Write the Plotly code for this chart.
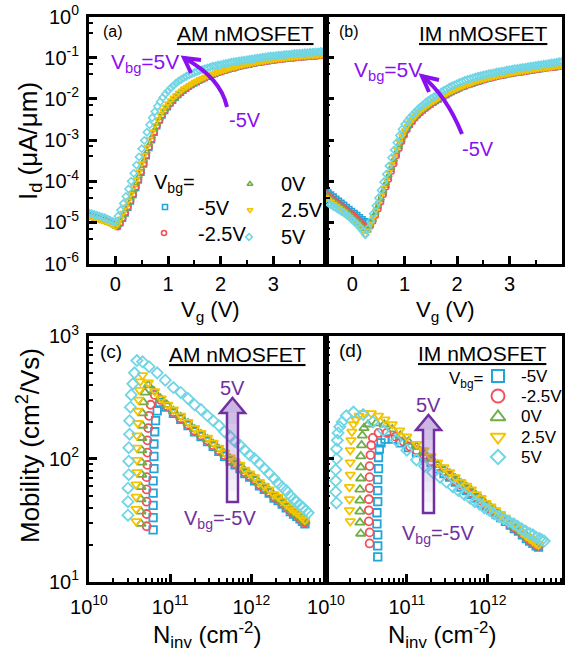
import plotly.graph_objects as go

# ---------------- data ----------------
VG = [-0.5, -0.45, -0.4, -0.35, -0.3, -0.25, -0.2, -0.15, -0.1, -0.05, 0.0,
      0.05, 0.1, 0.15, 0.2, 0.25, 0.3, 0.35, 0.4, 0.45, 0.5,
      0.55, 0.6, 0.65, 0.7, 0.75, 0.8, 0.85, 0.9, 0.95, 1.0,
      1.05, 1.1, 1.15, 1.2, 1.25, 1.3, 1.35, 1.4, 1.45, 1.5,
      1.55, 1.6, 1.65, 1.7, 1.75, 1.8, 1.85, 1.9, 1.95, 2.0,
      2.05, 2.1, 2.15, 2.2, 2.25, 2.3, 2.35, 2.4, 2.45, 2.5,
      2.55, 2.6, 2.65, 2.7, 2.75, 2.8, 2.85, 2.9, 2.95, 3.0,
      3.05, 3.1, 3.15, 3.2, 3.25, 3.3, 3.35, 3.4, 3.45, 3.5,
      3.55, 3.6, 3.65, 3.7, 3.75, 3.8, 3.85, 3.9, 3.95, 4.0]

# log10(Id [uA/um]) -- panel (a) AM nMOSFET
A_M5 = [-4.82, -4.84, -4.86, -4.88, -4.90, -4.92, -4.94, -4.97, -5.00, -5.03, -5.07,
        -5.10, -5.03, -4.92, -4.79, -4.65, -4.50, -4.34, -4.17, -3.99, -3.80,
        -3.60, -3.40, -3.20, -3.01, -2.83, -2.67, -2.53, -2.41, -2.30, -2.21,
        -2.12, -2.05, -1.98, -1.91, -1.86, -1.80, -1.76, -1.71, -1.67, -1.63,
        -1.60, -1.56, -1.53, -1.50, -1.47, -1.45, -1.42, -1.40, -1.37, -1.35,
        -1.33, -1.31, -1.29, -1.27, -1.26, -1.24, -1.22, -1.21, -1.19, -1.18,
        -1.17, -1.15, -1.14, -1.13, -1.12, -1.11, -1.10, -1.09, -1.08, -1.07,
        -1.06, -1.05, -1.05, -1.04, -1.03, -1.02, -1.02, -1.01, -1.00, -1.00,
        -0.99, -0.99, -0.98, -0.98, -0.97, -0.97, -0.96, -0.96, -0.95, -0.95]
A_M25 = [-4.85, -4.87, -4.89, -4.91, -4.93, -4.95, -4.97, -4.99, -5.02, -5.05, -5.09,
         -5.12, -5.02, -4.90, -4.77, -4.63, -4.48, -4.32, -4.15, -3.97, -3.78,
         -3.58, -3.38, -3.18, -2.99, -2.81, -2.66, -2.52, -2.40, -2.29, -2.20,
         -2.12, -2.04, -1.97, -1.91, -1.85, -1.80, -1.75, -1.71, -1.67, -1.63,
         -1.59, -1.56, -1.53, -1.50, -1.47, -1.44, -1.42, -1.39, -1.37, -1.35,
         -1.33, -1.31, -1.29, -1.27, -1.26, -1.24, -1.22, -1.21, -1.19, -1.18,
         -1.17, -1.15, -1.14, -1.13, -1.12, -1.11, -1.10, -1.09, -1.08, -1.07,
         -1.06, -1.05, -1.05, -1.04, -1.03, -1.02, -1.02, -1.01, -1.00, -1.00,
         -0.99, -0.99, -0.98, -0.98, -0.97, -0.97, -0.96, -0.96, -0.95, -0.95]
A_0 = [-4.86, -4.88, -4.90, -4.92, -4.94, -4.96, -4.98, -5.00, -5.03, -5.06, -5.10,
       -5.08, -4.96, -4.83, -4.69, -4.55, -4.39, -4.23, -4.06, -3.88, -3.69,
       -3.49, -3.29, -3.10, -2.91, -2.74, -2.60, -2.47, -2.35, -2.25, -2.16,
       -2.08, -2.01, -1.94, -1.88, -1.83, -1.78, -1.73, -1.69, -1.65, -1.61,
       -1.58, -1.55, -1.52, -1.49, -1.46, -1.43, -1.41, -1.38, -1.36, -1.34,
       -1.32, -1.30, -1.28, -1.26, -1.25, -1.23, -1.21, -1.20, -1.18, -1.17,
       -1.16, -1.14, -1.13, -1.12, -1.11, -1.10, -1.09, -1.08, -1.07, -1.06,
       -1.05, -1.04, -1.04, -1.03, -1.02, -1.01, -1.01, -1.00, -0.99, -0.99,
       -0.98, -0.98, -0.97, -0.97, -0.96, -0.96, -0.95, -0.95, -0.94, -0.94]
A_P25 = [-4.86, -4.88, -4.90, -4.92, -4.94, -4.96, -4.98, -5.00, -5.03, -5.06, -5.11,
         -5.04, -4.91, -4.77, -4.62, -4.47, -4.31, -4.14, -3.96, -3.77, -3.57,
         -3.37, -3.17, -2.98, -2.80, -2.64, -2.50, -2.38, -2.28, -2.19, -2.11,
         -2.04, -1.97, -1.91, -1.85, -1.80, -1.75, -1.71, -1.67, -1.63, -1.59,
         -1.56, -1.53, -1.50, -1.47, -1.44, -1.42, -1.39, -1.37, -1.35, -1.33,
         -1.31, -1.29, -1.27, -1.25, -1.24, -1.22, -1.20, -1.19, -1.17, -1.16,
         -1.15, -1.13, -1.12, -1.11, -1.10, -1.09, -1.08, -1.07, -1.06, -1.05,
         -1.04, -1.03, -1.03, -1.02, -1.01, -1.00, -1.00, -0.99, -0.98, -0.98,
         -0.97, -0.97, -0.96, -0.96, -0.95, -0.95, -0.94, -0.94, -0.93, -0.93]
A_P5 = [-4.77, -4.79, -4.81, -4.83, -4.85, -4.87, -4.89, -4.92, -4.95, -4.98, -4.99,
        -4.85, -4.70, -4.54, -4.37, -4.19, -4.00, -3.81, -3.61, -3.41, -3.21,
        -3.01, -2.81, -2.63, -2.46, -2.31, -2.18, -2.07, -1.97, -1.88, -1.81,
        -1.74, -1.68, -1.62, -1.57, -1.53, -1.49, -1.45, -1.42, -1.39, -1.36,
        -1.34, -1.31, -1.29, -1.27, -1.25, -1.23, -1.21, -1.20, -1.18, -1.17,
        -1.15, -1.14, -1.13, -1.11, -1.10, -1.09, -1.08, -1.07, -1.06, -1.05,
        -1.04, -1.03, -1.02, -1.01, -1.00, -0.99, -0.98, -0.97, -0.96, -0.96,
        -0.95, -0.94, -0.94, -0.93, -0.92, -0.92, -0.91, -0.90, -0.90, -0.89,
        -0.89, -0.88, -0.88, -0.87, -0.87, -0.86, -0.86, -0.85, -0.85, -0.84]

# log10(Id [uA/um]) -- panel (b) IM nMOSFET
B_M5 = [-4.22, -4.27, -4.32, -4.37, -4.42, -4.47, -4.52, -4.57, -4.62, -4.67, -4.72,
        -4.77, -4.82, -4.87, -4.92, -4.97, -5.00, -4.98, -4.88, -4.75, -4.60,
        -4.44, -4.27, -4.09, -3.90, -3.71, -3.52, -3.33, -3.15, -2.99, -2.85,
        -2.73, -2.63, -2.54, -2.46, -2.39, -2.33, -2.28, -2.23, -2.18, -2.14,
        -2.10, -2.06, -2.02, -1.98, -1.94, -1.91, -1.87, -1.84, -1.81, -1.78,
        -1.75, -1.72, -1.70, -1.67, -1.65, -1.63, -1.61, -1.59, -1.57, -1.55,
        -1.53, -1.51, -1.50, -1.48, -1.47, -1.45, -1.44, -1.43, -1.41, -1.40,
        -1.39, -1.38, -1.37, -1.36, -1.35, -1.34, -1.33, -1.32, -1.31, -1.30,
        -1.29, -1.28, -1.27, -1.26, -1.25, -1.25, -1.24, -1.23, -1.22, -1.21]
B_M25 = [-4.30, -4.35, -4.40, -4.45, -4.50, -4.55, -4.60, -4.65, -4.70, -4.75, -4.80,
         -4.86, -4.92, -4.98, -5.04, -5.10, -5.14, -5.10, -4.98, -4.84, -4.68,
         -4.51, -4.33, -4.15, -3.96, -3.77, -3.58, -3.39, -3.21, -3.04, -2.89,
         -2.76, -2.65, -2.56, -2.48, -2.41, -2.35, -2.29, -2.24, -2.19, -2.14,
         -2.10, -2.06, -2.02, -1.98, -1.94, -1.91, -1.87, -1.84, -1.81, -1.78,
         -1.75, -1.72, -1.70, -1.67, -1.65, -1.63, -1.61, -1.59, -1.57, -1.55,
         -1.53, -1.51, -1.50, -1.48, -1.47, -1.45, -1.44, -1.43, -1.41, -1.40,
         -1.39, -1.38, -1.37, -1.36, -1.35, -1.34, -1.33, -1.32, -1.31, -1.30,
         -1.29, -1.28, -1.27, -1.26, -1.25, -1.25, -1.24, -1.23, -1.22, -1.21]
B_0 = [-4.35, -4.40, -4.45, -4.50, -4.55, -4.60, -4.65, -4.70, -4.75, -4.80, -4.86,
       -4.92, -4.98, -5.04, -5.10, -5.16, -5.20, -5.08, -4.93, -4.77, -4.60,
       -4.42, -4.24, -4.05, -3.86, -3.67, -3.48, -3.29, -3.12, -2.96, -2.82,
       -2.70, -2.60, -2.51, -2.44, -2.37, -2.31, -2.26, -2.21, -2.16, -2.12,
       -2.08, -2.04, -2.00, -1.96, -1.93, -1.89, -1.86, -1.83, -1.80, -1.77,
       -1.74, -1.71, -1.69, -1.66, -1.64, -1.62, -1.60, -1.58, -1.56, -1.54,
       -1.52, -1.51, -1.49, -1.48, -1.46, -1.45, -1.44, -1.42, -1.41, -1.40,
       -1.39, -1.37, -1.36, -1.35, -1.34, -1.33, -1.32, -1.31, -1.30, -1.29,
       -1.28, -1.27, -1.27, -1.26, -1.25, -1.24, -1.23, -1.22, -1.22, -1.21]
B_P25 = [-4.40, -4.45, -4.50, -4.55, -4.60, -4.65, -4.70, -4.75, -4.81, -4.87, -4.93,
         -4.99, -5.05, -5.12, -5.19, -5.30, -5.20, -5.04, -4.88, -4.71, -4.53,
         -4.35, -4.16, -3.97, -3.78, -3.59, -3.40, -3.22, -3.05, -2.90, -2.77,
         -2.66, -2.57, -2.49, -2.42, -2.35, -2.29, -2.24, -2.19, -2.14, -2.10,
         -2.06, -2.02, -1.98, -1.94, -1.91, -1.87, -1.84, -1.81, -1.78, -1.75,
         -1.72, -1.70, -1.67, -1.65, -1.63, -1.60, -1.58, -1.56, -1.54, -1.53,
         -1.51, -1.49, -1.48, -1.46, -1.45, -1.44, -1.42, -1.41, -1.40, -1.39,
         -1.37, -1.36, -1.35, -1.34, -1.33, -1.32, -1.31, -1.30, -1.29, -1.28,
         -1.27, -1.26, -1.26, -1.25, -1.24, -1.23, -1.22, -1.21, -1.21, -1.20]
B_P5 = [-4.50, -4.54, -4.58, -4.62, -4.66, -4.70, -4.74, -4.78, -4.83, -4.88, -4.94,
        -5.00, -5.06, -5.13, -5.21, -5.30, -5.15, -4.97, -4.79, -4.60, -4.41,
        -4.22, -4.02, -3.83, -3.63, -3.43, -3.24, -3.06, -2.89, -2.74, -2.62,
        -2.54, -2.46, -2.39, -2.32, -2.26, -2.20, -2.15, -2.09, -2.04, -2.00,
        -1.96, -1.92, -1.87, -1.83, -1.79, -1.76, -1.72, -1.69, -1.66, -1.63,
        -1.60, -1.58, -1.55, -1.53, -1.51, -1.49, -1.47, -1.45, -1.44, -1.42,
        -1.41, -1.39, -1.38, -1.37, -1.35, -1.34, -1.33, -1.32, -1.30, -1.29,
        -1.28, -1.27, -1.26, -1.25, -1.24, -1.23, -1.22, -1.21, -1.20, -1.19,
        -1.18, -1.17, -1.16, -1.15, -1.14, -1.13, -1.12, -1.11, -1.10, -1.09]

# log10(Ninv [cm^-2]) and log10(mobility [cm2/Vs]) -- panel (c) AM
C_NGRID = [11.04, 11.13, 11.22, 11.30, 11.38, 11.46, 11.53, 11.60, 11.67, 11.74,
           11.80, 11.86, 11.92, 11.98, 12.04, 12.10, 12.16, 12.22, 12.28, 12.33,
           12.38, 12.43, 12.48, 12.52, 12.56, 12.60, 12.63, 12.66]
C_M5_N = [10.79, 10.79, 10.79, 10.79, 10.79, 10.80, 10.80, 10.80, 10.81, 10.82, 10.84, 10.87, 10.95]
C_M5_MU = [1.42, 1.52, 1.62, 1.72, 1.82, 1.92, 2.02, 2.12, 2.22, 2.31, 2.39, 2.46, 2.42]
C_M5_MUG = [2.37, 2.32, 2.27, 2.22, 2.18, 2.14, 2.10, 2.06, 2.02, 1.98, 1.95, 1.92, 1.88, 1.85,
            1.82, 1.78, 1.75, 1.72, 1.68, 1.66, 1.63, 1.60, 1.57, 1.55, 1.53, 1.51, 1.49, 1.47]
C_M25_N = [10.71, 10.71, 10.71, 10.71, 10.71, 10.72, 10.72, 10.72, 10.73, 10.74, 10.76, 10.81, 10.88, 10.96]
C_M25_MU = [1.45, 1.55, 1.65, 1.75, 1.85, 1.95, 2.05, 2.15, 2.25, 2.35, 2.44, 2.52, 2.48, 2.43]
C_M25_MUG = [2.38, 2.33, 2.28, 2.23, 2.19, 2.15, 2.11, 2.07, 2.03, 1.99, 1.96, 1.93, 1.89, 1.86,
             1.83, 1.79, 1.76, 1.73, 1.69, 1.67, 1.64, 1.61, 1.58, 1.56, 1.54, 1.52, 1.50, 1.48]
C_0_N = [10.64, 10.64, 10.64, 10.64, 10.65, 10.65, 10.65, 10.65, 10.66, 10.66, 10.67, 10.69, 10.73, 10.80, 10.88, 10.96]
C_0_MU = [1.47, 1.57, 1.67, 1.77, 1.87, 1.97, 2.07, 2.17, 2.27, 2.37, 2.46, 2.54, 2.60, 2.55, 2.49, 2.44]
C_0_MUG = [2.39, 2.34, 2.29, 2.24, 2.20, 2.16, 2.12, 2.08, 2.04, 2.00, 1.97, 1.94, 1.90, 1.87,
           1.84, 1.80, 1.77, 1.74, 1.70, 1.68, 1.65, 1.62, 1.59, 1.57, 1.55, 1.53, 1.51, 1.49]
C_P25_N = [10.58, 10.58, 10.58, 10.58, 10.59, 10.59, 10.59, 10.59, 10.60, 10.60, 10.61, 10.62, 10.63,
           10.66, 10.73, 10.81, 10.89, 10.97]
C_P25_MU = [1.49, 1.59, 1.69, 1.79, 1.89, 1.99, 2.09, 2.19, 2.29, 2.39, 2.48, 2.56, 2.63,
            2.68, 2.62, 2.55, 2.49, 2.44]
C_P25_MUG = [2.40, 2.35, 2.30, 2.25, 2.21, 2.17, 2.13, 2.09, 2.05, 2.01, 1.98, 1.95, 1.91, 1.88,
             1.85, 1.81, 1.78, 1.75, 1.71, 1.69, 1.66, 1.63, 1.60, 1.58, 1.56, 1.54, 1.52, 1.50]
C_P5_N = [10.48, 10.48, 10.48, 10.49, 10.49, 10.49, 10.50, 10.50, 10.51, 10.52, 10.54, 10.56, 10.59,
          10.66, 10.74, 10.84, 10.94, 11.04, 11.13, 11.22, 11.30, 11.38, 11.46, 11.53, 11.60, 11.67,
          11.74, 11.80, 11.86, 11.92, 11.98, 12.04, 12.10, 12.16, 12.22, 12.28, 12.33, 12.38, 12.43,
          12.48, 12.52, 12.56, 12.60, 12.64, 12.67, 12.70]
C_P5_MU = [1.54, 1.65, 1.76, 1.87, 1.98, 2.09, 2.20, 2.31, 2.42, 2.52, 2.61, 2.70, 2.80,
           2.79, 2.75, 2.70, 2.64, 2.58, 2.54, 2.49, 2.44, 2.40, 2.35, 2.31, 2.27, 2.22,
           2.18, 2.14, 2.11, 2.07, 2.03, 2.00, 1.96, 1.92, 1.88, 1.84, 1.80, 1.77, 1.74,
           1.70, 1.67, 1.65, 1.62, 1.60, 1.58, 1.56]

# panel (d) IM
D_NGRID = [11.12, 11.21, 11.30, 11.38, 11.46, 11.53, 11.60, 11.67, 11.74, 11.80, 11.86, 11.92, 11.98,
           12.04, 12.10, 12.16, 12.22, 12.28, 12.33, 12.38, 12.43, 12.48, 12.52, 12.56, 12.60, 12.63]
D_M5_N = [10.64, 10.64, 10.64, 10.63, 10.63, 10.64, 10.64, 10.64, 10.65, 10.65, 10.66, 10.68, 10.73, 10.82, 10.92, 11.02]
D_M5_MU = [1.20, 1.29, 1.38, 1.47, 1.56, 1.65, 1.74, 1.83, 1.92, 2.01, 2.08, 2.13, 2.16, 2.16, 2.13, 2.09]
D_M5_MUG = [2.05, 2.01, 1.97, 1.92, 1.88, 1.85, 1.81, 1.77, 1.74, 1.71, 1.68, 1.64, 1.61,
            1.58, 1.55, 1.52, 1.49, 1.46, 1.43, 1.41, 1.38, 1.35, 1.33, 1.31, 1.29, 1.28]
D_M25_N = [10.54, 10.54, 10.53, 10.53, 10.53, 10.54, 10.54, 10.54, 10.55, 10.56, 10.58, 10.65, 10.75, 10.86, 10.96, 11.04]
D_M25_MU = [1.31, 1.40, 1.49, 1.58, 1.67, 1.76, 1.85, 1.94, 2.03, 2.11, 2.17, 2.21, 2.21, 2.18, 2.14, 2.10]
D_M25_MUG = [2.07, 2.03, 1.98, 1.94, 1.90, 1.86, 1.82, 1.79, 1.75, 1.72, 1.69, 1.66, 1.62,
             1.59, 1.56, 1.53, 1.50, 1.47, 1.44, 1.42, 1.39, 1.36, 1.34, 1.32, 1.30, 1.29]
D_0_N = [10.43, 10.42, 10.42, 10.42, 10.42, 10.43, 10.43, 10.43, 10.44, 10.45, 10.47, 10.52, 10.62, 10.72, 10.82, 10.92, 11.02]
D_0_MU = [1.39, 1.48, 1.57, 1.66, 1.75, 1.84, 1.93, 2.02, 2.11, 2.19, 2.25, 2.28, 2.29, 2.28, 2.24, 2.19, 2.14]
D_0_MUG = [2.10, 2.05, 2.00, 1.95, 1.91, 1.88, 1.84, 1.80, 1.77, 1.74, 1.70, 1.67, 1.63,
           1.60, 1.57, 1.54, 1.51, 1.48, 1.45, 1.43, 1.40, 1.37, 1.35, 1.33, 1.31, 1.30]
D_P25_N = [10.30, 10.29, 10.29, 10.29, 10.30, 10.30, 10.30, 10.31, 10.32, 10.34, 10.37, 10.41, 10.47,
           10.56, 10.65, 10.73, 10.82, 10.91, 11.00]
D_P25_MU = [1.49, 1.58, 1.67, 1.77, 1.87, 1.97, 2.07, 2.15, 2.22, 2.28, 2.32, 2.35, 2.37,
            2.37, 2.35, 2.32, 2.28, 2.23, 2.18]
D_P25_MUG = [2.12, 2.07, 2.02, 1.97, 1.93, 1.89, 1.85, 1.81, 1.78, 1.75, 1.71, 1.68, 1.64,
             1.61, 1.58, 1.55, 1.52, 1.49, 1.46, 1.43, 1.40, 1.37, 1.35, 1.33, 1.31, 1.30]
D_P5_N = [10.13, 10.12, 10.12, 10.12, 10.13, 10.13, 10.14, 10.15, 10.17, 10.20, 10.25, 10.34, 10.46,
          10.58, 10.71, 10.87, 11.00, 11.12, 11.22, 11.32, 11.41, 11.49, 11.57, 11.64, 11.71, 11.78,
          11.84, 11.90, 11.96, 12.02, 12.08, 12.14, 12.20, 12.26, 12.32, 12.37, 12.42, 12.47, 12.52,
          12.56, 12.60, 12.64, 12.67, 12.70]
D_P5_MU = [1.64, 1.73, 1.82, 1.91, 2.00, 2.08, 2.15, 2.21, 2.26, 2.30, 2.35, 2.38, 2.36,
           2.30, 2.23, 2.15, 2.07, 1.99, 1.94, 1.89, 1.85, 1.81, 1.77, 1.74, 1.71, 1.68,
           1.65, 1.63, 1.60, 1.58, 1.55, 1.53, 1.51, 1.49, 1.47, 1.45, 1.43, 1.41, 1.39,
           1.38, 1.36, 1.35, 1.34, 1.33]

VBG_LABELS = ["-5V", "-2.5V", "0V", "2.5V", "5V"]

for arr in (A_M5, A_M25, A_0, A_P25, A_P5, B_M5, B_M25, B_0, B_P25, B_P5):
    assert len(arr) == len(VG)
assert len(C_P5_N) == len(C_P5_MU) and len(D_P5_N) == len(D_P5_MU)
for n, m, g, grid in ((C_M5_N, C_M5_MU, C_M5_MUG, C_NGRID), (C_M25_N, C_M25_MU, C_M25_MUG, C_NGRID),
                      (C_0_N, C_0_MU, C_0_MUG, C_NGRID), (C_P25_N, C_P25_MU, C_P25_MUG, C_NGRID),
                      (D_M5_N, D_M5_MU, D_M5_MUG, D_NGRID), (D_M25_N, D_M25_MU, D_M25_MUG, D_NGRID),
                      (D_0_N, D_0_MU, D_0_MUG, D_NGRID), (D_P25_N, D_P25_MU, D_P25_MUG, D_NGRID)):
    assert len(n) == len(m) and len(g) == len(grid)

# ---------------- style ----------------
W, H = 567, 654
FONT = "Liberation Sans, Arial, sans-serif"
COLORS = ["#22A5D8", "#F4505C", "#70AD47", "#F5C400", "#70D5E5"]
SYMBOLS = ["square-open", "circle-open", "triangle-up-open", "triangle-down-open", "diamond-open"]
TOP_SIZES = [4.5, 5, 5.5, 5.5, 5.5]
BOT_SIZES = [7.5, 8, 8.5, 8.5, 8.5]
PURPLE = "#8A10F0"
DPURPLE = "#7030A0"


def px(x):
    return x / W


def py(y):
    return 1 - y / H


def lin(vals):
    return [10 ** v for v in vals]


fig = go.Figure()

top_sets = [("x", "y", [A_M5, A_M25, A_0, A_P25, A_P5]),
            ("x2", "y2", [B_M5, B_M25, B_0, B_P25, B_P5])]
for xa, ya, sets in top_sets:
    for i, arr in enumerate(sets):
        fig.add_trace(go.Scatter(
            x=VG, y=lin(arr), mode="markers", xaxis=xa, yaxis=ya, showlegend=False,
            name=VBG_LABELS[i], hoverinfo="skip",
            marker=dict(symbol=SYMBOLS[i], size=TOP_SIZES[i], color=COLORS[i],
                        line=dict(width=1.6, color=COLORS[i]))))

bot_c = [(C_M5_N + C_NGRID, C_M5_MU + C_M5_MUG), (C_M25_N + C_NGRID, C_M25_MU + C_M25_MUG),
         (C_0_N + C_NGRID, C_0_MU + C_0_MUG), (C_P25_N + C_NGRID, C_P25_MU + C_P25_MUG),
         (C_P5_N, C_P5_MU)]
bot_d = [(D_M5_N + D_NGRID, D_M5_MU + D_M5_MUG), (D_M25_N + D_NGRID, D_M25_MU + D_M25_MUG),
         (D_0_N + D_NGRID, D_0_MU + D_0_MUG), (D_P25_N + D_NGRID, D_P25_MU + D_P25_MUG),
         (D_P5_N, D_P5_MU)]
for xa, ya, sets in (("x3", "y3", bot_c), ("x4", "y4", bot_d)):
    for i, (n, m) in enumerate(sets):
        fig.add_trace(go.Scatter(
            x=lin(n), y=lin(m), mode="markers", xaxis=xa, yaxis=ya, showlegend=False,
            name=VBG_LABELS[i], hoverinfo="skip",
            marker=dict(symbol=SYMBOLS[i], size=BOT_SIZES[i], color=COLORS[i],
                        line=dict(width=1.8, color=COLORS[i]))))

# legend keys on a full-figure pixel overlay
LEG_A = [(165, 207), (164, 233), (250, 184), (250, 210), (249, 237)]
LEG_D = [(498, 376), (498, 396), (498, 417), (498, 437), (498, 457)]
LEG_D_SIZES = [12, 13, 13, 13, 11]
for i in range(5):
    fig.add_trace(go.Scatter(x=[LEG_A[i][0]], y=[LEG_A[i][1]], xaxis="x5", yaxis="y5", mode="markers",
                             showlegend=False, hoverinfo="skip",
                             marker=dict(symbol=SYMBOLS[i], size=5, color=COLORS[i],
                                         line=dict(width=1.6, color=COLORS[i]))))
    fig.add_trace(go.Scatter(x=[LEG_D[i][0]], y=[LEG_D[i][1]], xaxis="x5", yaxis="y5", mode="markers",
                             showlegend=False, hoverinfo="skip",
                             marker=dict(symbol=SYMBOLS[i], size=LEG_D_SIZES[i], color=COLORS[i],
                                         line=dict(width=2, color=COLORS[i]))))

tickfont = dict(size=20, family=FONT, color="black")
base = dict(showline=True, linecolor="black", linewidth=3, mirror=True, ticks="inside",
            ticklen=8, tickwidth=2.5, tickcolor="black", showgrid=False, zeroline=False,
            tickfont=tickfont, fixedrange=True, automargin=False)

minor_lin = dict(ticks="inside", ticklen=4, tickwidth=2, tickcolor="black", showgrid=False,
                 tickvals=[-0.5, 0.5, 1.5, 2.5, 3.5])
top_y_minor = dict(ticks="inside", ticklen=4, tickwidth=2, tickcolor="black", showgrid=False,
                   tickvals=[k * 10.0 ** e for e in range(-6, 0) for k in (4, 7)])
bot_minor = dict(ticks="inside", ticklen=4, tickwidth=2, tickcolor="black", showgrid=False,
                 tickvals=[k * 10.0 ** e for e in range(10, 13) for k in range(2, 10)])
bot_y_minor = dict(ticks="inside", ticklen=4, tickwidth=2, tickcolor="black", showgrid=False,
                   tickvals=[k * 10.0 ** e for e in range(1, 3) for k in range(2, 10)])

TOP_Y_VALS = [1e-6, 1e-5, 1e-4, 1e-3, 1e-2, 1e-1, 1]
TOP_Y_TEXT = ["10<sup>-6</sup>", "10<sup>-5</sup>", "10<sup>-4</sup>", "10<sup>-3</sup>",
              "10<sup>-2</sup>", "10<sup>-1</sup>", "10<sup>0</sup>"]
BOT_X_VALS = [1e10, 1e11, 1e12]
BOT_X_TEXT = ["10<sup>10</sup>", "10<sup>11</sup>", "10<sup>12</sup>"]
BOT_Y_VALS = [10, 100, 1000]
BOT_Y_TEXT = ["10<sup>1</sup>", "10<sup>2</sup>", "10<sup>3</sup>"]

XL, XM, XR = 89, 326, 562
YT1, YB1, YT2, YB2 = 16.5, 263.5, 336, 581.5

fig.update_layout(
    template="none",
    width=W, height=H, autosize=False,
    margin=dict(l=0, r=0, t=0, b=0, pad=0, autoexpand=False),
    paper_bgcolor="white", plot_bgcolor="rgba(0,0,0,0)",
    font=dict(family=FONT, color="black"), showlegend=False, hovermode=False,
    xaxis=dict(base, domain=[px(XL), px(XM)], anchor="y", range=[-0.5, 4],
               tickvals=[0, 1, 2, 3], minor=minor_lin, ticklabelstandoff=0),
    yaxis=dict(base, domain=[py(YB1), py(YT1)], anchor="x", type="log", range=[-6, 0],
               tickvals=TOP_Y_VALS, ticktext=TOP_Y_TEXT, minor=top_y_minor, ticklabelstandoff=3),
    xaxis2=dict(base, domain=[px(XM), px(XR)], anchor="y2", range=[-0.5, 4],
                tickvals=[0, 1, 2, 3], minor=minor_lin, ticklabelstandoff=0),
    yaxis2=dict(base, domain=[py(YB1), py(YT1)], anchor="x2", type="log", range=[-6, 0],
                tickvals=TOP_Y_VALS, showticklabels=False, minor=top_y_minor),
    xaxis3=dict(base, domain=[px(XL), px(XM)], anchor="y3", type="log", range=[10, 12.92],
                tickvals=BOT_X_VALS, ticktext=BOT_X_TEXT, minor=bot_minor, ticklabelstandoff=5),
    yaxis3=dict(base, domain=[py(YB2), py(YT2)], anchor="x3", type="log", range=[1, 3],
                tickvals=BOT_Y_VALS, ticktext=BOT_Y_TEXT, minor=bot_y_minor, ticklabelstandoff=3),
    xaxis4=dict(base, domain=[px(XM), px(XR)], anchor="y4", type="log", range=[10, 12.92],
                tickvals=BOT_X_VALS, ticktext=BOT_X_TEXT, minor=bot_minor, ticklabelstandoff=5),
    yaxis4=dict(base, domain=[py(YB2), py(YT2)], anchor="x4", type="log", range=[1, 3],
                tickvals=BOT_Y_VALS, showticklabels=False, minor=bot_y_minor),
    xaxis5=dict(domain=[0, 1], range=[0, W], visible=False, anchor="y5", fixedrange=True,
                automargin=False),
    yaxis5=dict(domain=[0, 1], range=[H, 0], visible=False, anchor="x5", fixedrange=True,
                automargin=False),
)

ann = []


def text(x, y, s, size=20, color="black", xanchor="center", yanchor="middle", angle=0):
    ann.append(dict(x=px(x), y=py(y), xref="paper", yref="paper", text=s, showarrow=False,
                    xanchor=xanchor, yanchor=yanchor, textangle=angle,
                    font=dict(size=size, color=color, family=FONT)))


# axis titles
text(29, 141, "I<sub>d</sub> (μA/μm)", size=26, angle=-90)
text(29, 446, "Mobility (cm<sup>2</sup>/Vs)", size=26, angle=-90)
text(210, 311, "V<sub>g</sub> (V)", size=22)
text(445, 311, "V<sub>g</sub> (V)", size=22)
text(207, 635, "N<sub>inv</sub> (cm<sup>-2</sup>)", size=24)
text(442, 635, "N<sub>inv</sub> (cm<sup>-2</sup>)", size=24)

# panel labels
text(113, 31, "(a)", size=16)
text(349, 31, "(b)", size=16)
text(111, 351, "(c)", size=19)
text(350, 350, "(d)", size=19)
text(245, 33, "<u>AM nMOSFET</u>", size=21)
text(483, 34, "<u>IM nMOSFET</u>", size=21)
text(237, 354, "<u>AM nMOSFET</u>", size=21)
text(482, 353, "<u>IM nMOSFET</u>", size=21)

# top annotations
text(109, 63, "V<sub>bg</sub>=5V", size=21, color=PURPLE, xanchor="left")
text(245, 120, "-5V", size=20, color=PURPLE)
text(352, 71, "V<sub>bg</sub>=5V", size=21, color=PURPLE, xanchor="left")
text(478, 149, "-5V", size=20, color=PURPLE)

# panel (a) legend
text(152, 184, "V<sub>bg</sub>=", size=20, xanchor="left")
for (lx, ly), lab in zip([(196, 208), (196, 234), (279, 184), (279, 210), (279, 237)], VBG_LABELS):
    text(lx, ly, lab, size=20, xanchor="left")

# panel (d) legend
text(447, 380, "V<sub>bg</sub>=", size=17, xanchor="left")
for (lx, ly), lab in zip([(519, 376), (519, 396), (519, 417), (519, 437), (519, 457)], VBG_LABELS):
    text(lx, ly, lab, size=17, xanchor="left")

# bottom arrow labels
text(232, 388, "5V", size=20, color=DPURPLE)
text(220, 519, "V<sub>bg</sub>=-5V", size=20, color=DPURPLE)
text(428, 405, "5V", size=20, color=DPURPLE)
text(438, 534, "V<sub>bg</sub>=-5V", size=20, color=DPURPLE)

fig.update_layout(annotations=ann)

shapes = []


def pt(x, y):
    return f"{px(x):.5f},{py(y):.5f}"


def curved_arrow(p0, mid, p1, arm1, arm2):
    cx = 2 * mid[0] - 0.5 * (p0[0] + p1[0])
    cy = 2 * mid[1] - 0.5 * (p0[1] + p1[1])
    shapes.append(dict(type="path", xref="paper", yref="paper",
                       path=f"M {pt(*p0)} Q {pt(cx, cy)} {pt(*p1)}",
                       line=dict(color=PURPLE, width=4)))
    shapes.append(dict(type="path", xref="paper", yref="paper",
                       path=f"M {pt(*arm1)} L {pt(*p1)} L {pt(*arm2)}",
                       line=dict(color=PURPLE, width=4)))


curved_arrow((227, 107), (213, 80), (184, 58), (201, 60), (191, 73))
curved_arrow((462, 134), (444, 100), (422, 76), (439, 80), (429, 92))


def block_arrow(xc, tip, hb, bottom, sw=5.5, hw=12.5):
    n = 8
    for k in range(n):
        y0 = hb + (bottom - hb) * k / n
        y1 = hb + (bottom - hb) * (k + 1) / n
        alpha = 0.45 - 0.4 * k / (n - 1)
        shapes.append(dict(type="rect", xref="paper", yref="paper", x0=px(xc - sw), x1=px(xc + sw),
                           y0=py(y1), y1=py(y0), line=dict(width=0),
                           fillcolor=f"rgba(150,110,200,{alpha:.3f})"))
    shapes.append(dict(type="path", xref="paper", yref="paper",
                       path=f"M {pt(xc - hw, hb)} L {pt(xc, tip)} L {pt(xc + hw, hb)} Z",
                       line=dict(width=0), fillcolor="rgba(150,110,200,0.5)"))
    shapes.append(dict(type="path", xref="paper", yref="paper",
                       path=(f"M {pt(xc - sw, bottom)} L {pt(xc - sw, hb)} L {pt(xc - hw, hb)} "
                             f"L {pt(xc, tip)} L {pt(xc + hw, hb)} L {pt(xc + sw, hb)} "
                             f"L {pt(xc + sw, bottom)} Z"),
                       line=dict(color=DPURPLE, width=2.5), fillcolor="rgba(0,0,0,0)"))


block_arrow(232.5, 398, 413, 502)
block_arrow(428.5, 415, 430, 513)

fig.update_layout(shapes=shapes)

fig.write_html("out.html")
